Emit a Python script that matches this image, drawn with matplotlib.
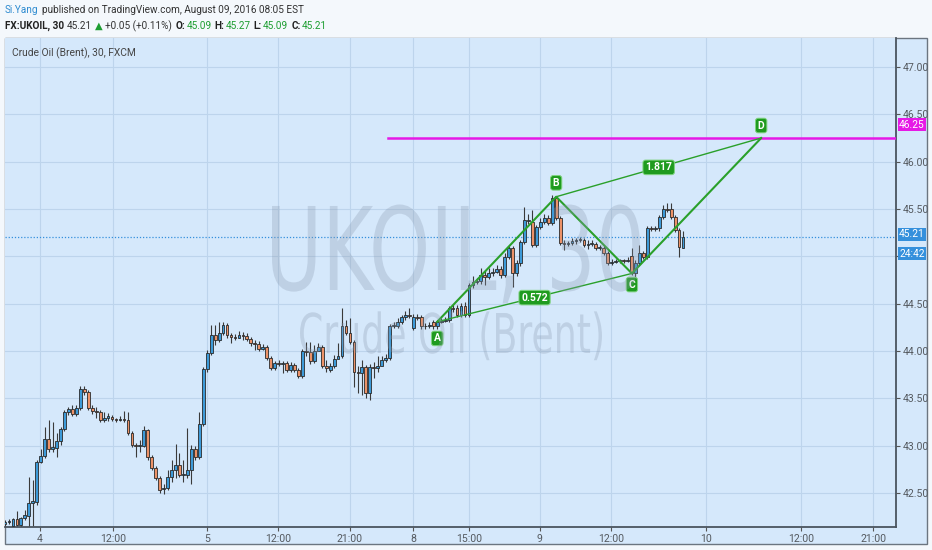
import numpy as np
import matplotlib
matplotlib.use("Agg")
import matplotlib.pyplot as plt
import matplotlib.transforms as mtransforms
from matplotlib.patches import Rectangle, PathPatch
from matplotlib.textpath import TextPath
from matplotlib.font_manager import FontProperties

# 30-minute candles, FX:UKOIL
opens = [42.17, 42.20, 42.15, 42.23, 42.16, 42.24, 42.26, 42.40, 42.41, 42.83,
         42.89, 43.07, 42.97, 42.98, 43.05, 43.18, 43.36, 43.39, 43.34, 43.40,
         43.60, 43.57, 43.40, 43.37, 43.36, 43.27, 43.29, 43.30, 43.28, 43.27,
         43.28, 43.27, 43.14, 43.01, 43.00, 43.00, 43.17, 42.88, 42.77, 42.66,
         42.54, 42.56, 42.67, 42.74, 42.80, 42.69, 42.69, 42.74, 42.97, 42.88,
         43.23, 43.81, 43.98, 44.17, 44.12, 44.19, 44.28, 44.17, 44.15, 44.14,
         44.17, 44.16, 44.13, 44.09, 44.08, 44.02, 44.04, 43.93, 43.82, 43.87,
         43.86, 43.87, 43.80, 43.85, 43.80, 43.74, 44.00, 43.99, 43.90, 44.00,
         44.04, 43.84, 43.80, 43.84, 43.92, 43.95, 44.27, 44.19, 44.10, 43.78,
         43.77, 43.83, 43.56, 43.83, 43.82, 43.84, 43.91, 43.93, 44.27, 44.27,
         44.31, 44.36, 44.38, 44.24, 44.36, 44.36, 44.26, 44.27, 44.31, 44.26,
         44.31, 44.32, 44.33, 44.45, 44.45, 44.38, 44.48, 44.38, 44.70, 44.73,
         44.74, 44.80, 44.78, 44.83, 44.84, 44.87, 44.80, 44.99, 45.09, 44.82,
         44.93, 45.15, 45.37, 45.36, 45.12, 45.31, 45.36, 45.41, 45.35, 45.62,
         45.41, 45.14, 45.13, 45.14, 45.16, 45.17, 45.17, 45.12, 45.13, 45.13,
         45.09, 45.09, 45.04, 44.93, 44.94, 44.95, 44.96, 44.95, 45.00, 44.83,
         44.93, 45.04, 44.99, 45.30, 45.29, 45.30, 45.42, 45.50, 45.50, 45.42,
         45.28, 45.09]
highs = [42.22, 42.23, 42.24, 42.31, 42.25, 42.32, 42.67, 42.64, 42.85, 42.97,
         43.20, 43.27, 43.25, 43.14, 43.20, 43.38, 43.41, 43.43, 43.43, 43.63,
         43.63, 43.59, 43.43, 43.41, 43.38, 43.36, 43.35, 43.33, 43.29, 43.31,
         43.37, 43.36, 43.16, 43.03, 43.06, 43.21, 43.18, 42.90, 42.79, 42.68,
         42.60, 42.74, 42.85, 43.02, 42.92, 42.85, 43.19, 43.01, 43.00, 43.36,
         43.83, 44.01, 44.28, 44.28, 44.31, 44.31, 44.30, 44.19, 44.18, 44.21,
         44.20, 44.19, 44.15, 44.12, 44.11, 44.08, 44.06, 43.95, 43.90, 43.91,
         43.90, 43.90, 43.88, 43.87, 43.82, 44.02, 44.10, 44.10, 44.06, 44.09,
         44.06, 43.91, 43.87, 43.96, 44.09, 44.46, 44.33, 44.35, 44.12, 43.84,
         43.91, 43.85, 43.86, 43.88, 43.95, 43.95, 43.97, 44.29, 44.31, 44.35,
         44.38, 44.42, 44.45, 44.39, 44.39, 44.38, 44.30, 44.31, 44.33, 44.33,
         44.35, 44.36, 44.48, 44.50, 44.49, 44.51, 44.52, 44.72, 44.79, 44.77,
         44.88, 44.85, 44.88, 44.88, 44.91, 44.90, 45.04, 45.11, 45.11, 44.96,
         45.17, 45.52, 45.45, 45.49, 45.33, 45.41, 45.45, 45.44, 45.65, 45.64,
         45.43, 45.17, 45.16, 45.19, 45.19, 45.20, 45.19, 45.17, 45.17, 45.15,
         45.12, 45.11, 45.06, 44.97, 44.97, 44.97, 44.97, 44.99, 45.09, 44.96,
         45.12, 45.06, 45.32, 45.32, 45.32, 45.44, 45.54, 45.56, 45.56, 45.44,
         45.30, 45.27]
lows = [42.14, 42.17, 42.14, 42.14, 42.14, 42.22, 42.14, 42.15, 42.38, 42.82,
        42.87, 42.93, 42.93, 42.88, 43.01, 43.16, 43.33, 43.32, 43.32, 43.38,
        43.54, 43.38, 43.34, 43.29, 43.25, 43.25, 43.26, 43.26, 43.25, 43.26,
        43.25, 43.11, 42.99, 42.88, 42.93, 42.99, 42.85, 42.74, 42.64, 42.50,
        42.49, 42.53, 42.62, 42.66, 42.67, 42.62, 42.66, 42.60, 42.85, 42.86,
        43.21, 43.78, 43.96, 44.06, 44.10, 44.17, 44.14, 44.09, 44.12, 44.14,
        44.12, 44.11, 44.05, 44.01, 44.00, 44.01, 43.91, 43.80, 43.80, 43.84,
        43.77, 43.78, 43.78, 43.78, 43.72, 43.72, 43.95, 43.86, 43.87, 44.01,
        43.82, 43.78, 43.78, 43.82, 43.93, 43.93, 44.17, 44.08, 43.62, 43.56,
        43.54, 43.51, 43.48, 43.72, 43.78, 43.85, 43.88, 43.91, 44.24, 44.24,
        44.29, 44.33, 44.35, 44.22, 44.33, 44.23, 44.23, 44.24, 44.23, 44.23,
        44.30, 44.31, 44.31, 44.41, 44.36, 44.36, 44.36, 44.36, 44.67, 44.71,
        44.71, 44.70, 44.76, 44.79, 44.83, 44.77, 44.78, 44.97, 44.68, 44.79,
        44.90, 45.13, 45.34, 45.10, 45.10, 45.29, 45.34, 45.33, 45.33, 45.38,
        45.12, 45.07, 45.11, 45.12, 45.13, 45.15, 45.10, 45.08, 45.11, 45.07,
        45.07, 45.01, 44.91, 44.91, 44.93, 44.93, 44.93, 44.94, 44.80, 44.78,
        44.91, 44.97, 44.97, 45.27, 45.27, 45.27, 45.40, 45.47, 45.40, 45.26,
        44.99, 45.09]
closes = [42.20, 42.21, 42.23, 42.16, 42.24, 42.27, 42.40, 42.42, 42.83, 42.89,
          43.07, 42.97, 42.99, 43.05, 43.18, 43.36, 43.39, 43.34, 43.40, 43.60,
          43.57, 43.40, 43.37, 43.36, 43.27, 43.29, 43.31, 43.28, 43.27, 43.28,
          43.27, 43.14, 43.01, 43.00, 43.01, 43.17, 42.88, 42.77, 42.66, 42.53,
          42.56, 42.67, 42.74, 42.80, 42.69, 42.70, 42.74, 42.97, 42.88, 43.23,
          43.81, 43.98, 44.17, 44.12, 44.19, 44.28, 44.17, 44.15, 44.14, 44.17,
          44.16, 44.13, 44.09, 44.08, 44.02, 44.04, 43.93, 43.82, 43.87, 43.86,
          43.87, 43.80, 43.85, 43.80, 43.74, 44.00, 43.99, 43.90, 44.00, 44.04,
          43.84, 43.82, 43.84, 43.92, 43.95, 44.27, 44.19, 44.10, 43.78, 43.77,
          43.83, 43.56, 43.83, 43.82, 43.84, 43.91, 43.93, 44.27, 44.28, 44.31,
          44.36, 44.38, 44.37, 44.36, 44.35, 44.26, 44.27, 44.28, 44.26, 44.31,
          44.32, 44.33, 44.45, 44.44, 44.38, 44.48, 44.38, 44.70, 44.73, 44.74,
          44.80, 44.78, 44.83, 44.84, 44.87, 44.80, 44.99, 45.09, 44.82, 44.93,
          45.15, 45.38, 45.38, 45.12, 45.31, 45.36, 45.41, 45.35, 45.62, 45.41,
          45.14, 45.13, 45.14, 45.16, 45.17, 45.18, 45.12, 45.13, 45.14, 45.09,
          45.10, 45.04, 44.93, 44.94, 44.95, 44.96, 44.95, 44.96, 44.83, 44.93,
          45.04, 44.99, 45.30, 45.29, 45.30, 45.42, 45.50, 45.49, 45.42, 45.28,
          45.10, 45.21]

# time axis (bar index of each label)
tick_pos = [8.8, 27.2, 50.9, 68.9, 87.0, 102.9, 117.0, 134.9, 152.8, 176.8, 200.8, 218.9]
tick_labels = ["4", "12:00", "5", "12:00", "21:00", "8", "15:00", "9", "12:00", "10", "12:00", "21:00"]
price_ticks = [42.5, 43.0, 43.5, 44.0, 44.5, 45.0, 45.5, 46.0, 46.5, 47.0]
# 45.00 sits under the last-price boxes, so its label is not shown
price_labels = ["42.50", "43.00", "43.50", "44.00", "44.50", "", "45.50", "46.00", "46.50", "47.00"]

# ABCD pattern drawn on the chart
pattern_names = ["A", "B", "C", "D"]
pattern_x = [109.0, 139.0, 158.1, 190.7]
pattern_y = [44.31, 45.63, 44.82, 46.25]
ratio_labels = ["0.572", "1.817"]

target_price = 46.25
target_start = 96.6
last_price = 45.21
countdown = "24:42"

BG = "#d5e8fb"
GRID = "#bdd4ec"
UP = "#3d9ad8"
DOWN = "#ec9268"
EDGE = "#2a2a2a"
GREEN = "#2aa02a"
BOXGREEN = "#1f9b1f"
MAGENTA = "#e619e6"
BLUE = "#3590dc"
AXIS_TXT = "#555a60"
FAM = ["Roboto", "DejaVu Sans"]

W, H = 932, 550
fig = plt.figure(figsize=(W / 100, H / 100), dpi=100)
fig.patch.set_facecolor("#f4f8fc")
px = mtransforms.Affine2D().scale(1 / W, 1 / H) + fig.transFigure  # figure pixels, origin bottom-left

# outer chart frame
fig.add_artist(Rectangle((5 / W, 1 - 544 / H), 922 / W, 506 / H, transform=fig.transFigure,
                         facecolor=BG, edgecolor="#6b7580", lw=1.0, zorder=0))

ax = fig.add_axes([5 / W, 1 - 527 / H, 891 / W, 489 / H])
ax.set_facecolor(BG)
ax.set_xlim(0, 224.7)
ax.set_ylim(42.143, 47.306)
ax.set_axisbelow(True)
ax.grid(color=GRID, lw=0.8)
for s in ["left", "top"]:
    ax.spines[s].set_visible(False)
for s in ["right", "bottom"]:
    ax.spines[s].set_color("#4a545e")
    ax.spines[s].set_linewidth(1.3)

ax.yaxis.tick_right()
ax.set_yticks(price_ticks, price_labels)
ax.set_xticks(tick_pos, tick_labels)
ax.tick_params(axis="both", length=3, color="#555", labelcolor=AXIS_TXT, labelsize=7.6)
ax.tick_params(axis="y", pad=1.5)
ax.tick_params(axis="x", pad=2)
for lab in ax.get_xticklabels() + ax.get_yticklabels():
    lab.set_family(FAM)


def watermark(text, x0, x1, baseline, cap_h):
    # condensed watermark lettering: squeeze a text path into the box it takes in the chart
    tp = TextPath((0, 0), text, size=1, prop=FontProperties(family="DejaVu Sans"))
    ext = tp.get_extents()
    tr = (mtransforms.Affine2D().translate(-ext.x0, 0)
          .scale((x1 - x0) / ext.width, cap_h / 0.729)
          .translate(x0, H - baseline))
    fig.add_artist(PathPatch(tp, transform=tr + px, facecolor="#8b9ab0", edgecolor="none",
                             alpha=0.3, zorder=0.5))


watermark("UKOIL, 30", 272, 640, 290, 84)
watermark("Crude Oil (Brent)", 300, 602, 353, 40)

# candles
xs = np.arange(len(closes))
ax.vlines(xs, lows, highs, color="#3a3a3a", lw=0.8, zorder=2)
for x, o, c in zip(xs, opens, closes):
    lo, hi = min(o, c), max(o, c)
    ax.add_patch(Rectangle((x - 0.35, lo), 0.7, max(hi - lo, 0.006),
                           facecolor=UP if c >= o else DOWN, edgecolor=EDGE, lw=0.6, zorder=3))

# last price and target lines
ax.axhline(last_price, color=BLUE, lw=0.9, ls=(0, (1, 1.5)), zorder=2.5)
ax.plot([target_start, 224.7], [target_price, target_price], color=MAGENTA, lw=1.8, zorder=4)

# ABCD pattern
ax.plot(pattern_x, pattern_y, color=GREEN, lw=1.5, zorder=4)
ax.plot([pattern_x[0], pattern_x[2]], [pattern_y[0], pattern_y[2]], color=GREEN, lw=1.0, zorder=4)
ax.plot([pattern_x[1], pattern_x[3]], [pattern_y[1], pattern_y[3]], color=GREEN, lw=1.0, zorder=4)

box = dict(boxstyle="round,pad=0.22,rounding_size=0.25", fc=BOXGREEN, ec="#7fd37f", lw=0.7)
offsets = [-12, 10, -8, 9]
for name, x, y, dy in zip(pattern_names, pattern_x, pattern_y, offsets):
    ax.annotate(name, (x, y), xytext=(0, dy), textcoords="offset points", ha="center", va="center",
                fontsize=7.5, color="white", fontweight="bold", family=FAM, bbox=box, zorder=6)
for lab, (i, j) in zip(ratio_labels, [(0, 2), (1, 3)]):
    mx = (pattern_x[i] + pattern_x[j]) / 2
    my = (pattern_y[i] + pattern_y[j]) / 2
    ax.text(mx, my, lab, ha="center", va="center", fontsize=7.5, color="white",
            fontweight="bold", family=FAM, bbox=box, zorder=6)

# price labels on the right axis
ytr = ax.get_yaxis_transform()
for txt, price, dy, col in [(f"{target_price:.2f}", target_price, 9.5, MAGENTA),
                            (f"{last_price:.2f}", last_price, 1.5, BLUE),
                            (countdown, last_price, -12.5, BLUE)]:
    ax.annotate(txt, (1.0, price), xycoords=ytr, xytext=(11.5, dy), textcoords="offset points",
                ha="center", va="center", fontsize=7.4, color="white", family=FAM,
                annotation_clip=False, zorder=7,
                bbox=dict(boxstyle="square,pad=0.15", fc=col, ec="none"))

# header: pieces laid out one after another
renderer = fig.canvas.get_renderer()


def text_run(y, pieces, x=5):
    for txt, col, wt, gap in pieces:
        fam = ["DejaVu Sans"] if txt == "\u25b2" else FAM
        t = fig.text(x / W, 1 - y / H, txt, color=col, fontsize=7.2, fontweight=wt,
                     family=fam, va="center")
        x = t.get_window_extent(renderer).x1 + gap


text_run(10, [("Si.Yang", "#2e8bd0", "normal", 3),
              ("published on TradingView.com, August 09, 2016 08:05 EST", "#333", "normal", 0)])
text_run(26, [("FX:UKOIL, 30", "#222", "bold", 3), ("45.21", "#333", "normal", 3),
              ("\u25b2", "#1e9e32", "normal", 2), ("+0.05 (+0.11%)", "#333", "normal", 4),
              ("O:", "#222", "bold", 1), ("45.09", "#1e9e32", "normal", 3),
              ("H:", "#222", "bold", 1), ("45.27", "#1e9e32", "normal", 3),
              ("L:", "#222", "bold", 1), ("45.09", "#1e9e32", "normal", 3),
              ("C:", "#222", "bold", 1), ("45.21", "#1e9e32", "normal", 0)])
fig.text(12 / W, 1 - 53 / H, "Crude Oil (Brent), 30, FXCM", color="#444", fontsize=7.4,
         family=FAM, va="center")

fig.savefig("out.png", dpi=100, facecolor=fig.get_facecolor())
